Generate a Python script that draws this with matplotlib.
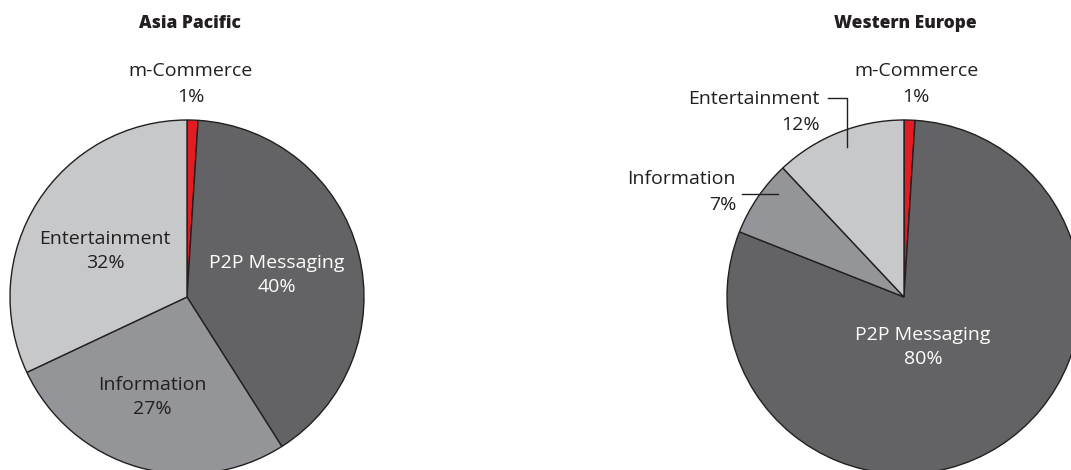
import matplotlib
matplotlib.use("Agg")
import matplotlib.pyplot as plt

# Data
categories = ["m-Commerce", "P2P Messaging", "Information", "Entertainment"]
asia_pacific = [1, 40, 27, 32]
western_europe = [1, 80, 7, 12]
titles = ["Asia Pacific", "Western Europe"]

colors = ["#E31B23", "#636365", "#939598", "#C7C8CA"]
TXT = "#231F20"

W, H = 1071, 470
fig = plt.figure(figsize=(W / 100, H / 100), dpi=100)
ax = fig.add_axes([0, 0, 1, 1])

R = 177
centers = [(187, H - 297), (904, H - 297)]

for vals, c in zip([asia_pacific, western_europe], centers):
    ax.pie(vals, colors=colors, startangle=90, counterclock=False,
           center=c, radius=R, frame=True,
           wedgeprops=dict(edgecolor="#231F20", linewidth=1.0))
ax.set_xlim(0, W)
ax.set_ylim(0, H)
ax.set_aspect("auto")
ax.axis("off")

font = "Open Sans"
fs = 14
tfs = 12.5

def y(v):
    return H - v

# titles
ax.text(190, y(23), titles[0], ha="center", va="center", fontsize=tfs,
        fontweight="heavy", family=font, color=TXT)
ax.text(905, y(23), titles[1], ha="center", va="center", fontsize=tfs,
        fontweight="heavy", family=font, color=TXT)

def lab(x, yy, name, val, color=TXT, ha="center"):
    ax.text(x, y(yy), f"{name}\n{val}%", ha=ha, va="center", fontsize=fs,
            family=font, color=color, multialignment=ha, linespacing=1.5)

# Asia Pacific labels
lab(191, 84, categories[0], asia_pacific[0])
lab(277, 275, categories[1], asia_pacific[1], color="white")
lab(105, 251, categories[3], asia_pacific[3])
lab(152, 397, categories[2], asia_pacific[2])

# Western Europe labels
lab(916, 84, categories[0], western_europe[0])
lab(923, 347, categories[1], western_europe[1], color="white")
lab(736, 192, categories[2], western_europe[2], ha="right")
lab(820, 112, categories[3], western_europe[3], ha="right")

# leader lines
ax.plot([742, 778], [y(194), y(194)], color=TXT, lw=1.0)
ax.plot([828, 847, 847], [y(98), y(98), y(147)], color=TXT, lw=1.0)

fig.savefig("out.png", dpi=100)
